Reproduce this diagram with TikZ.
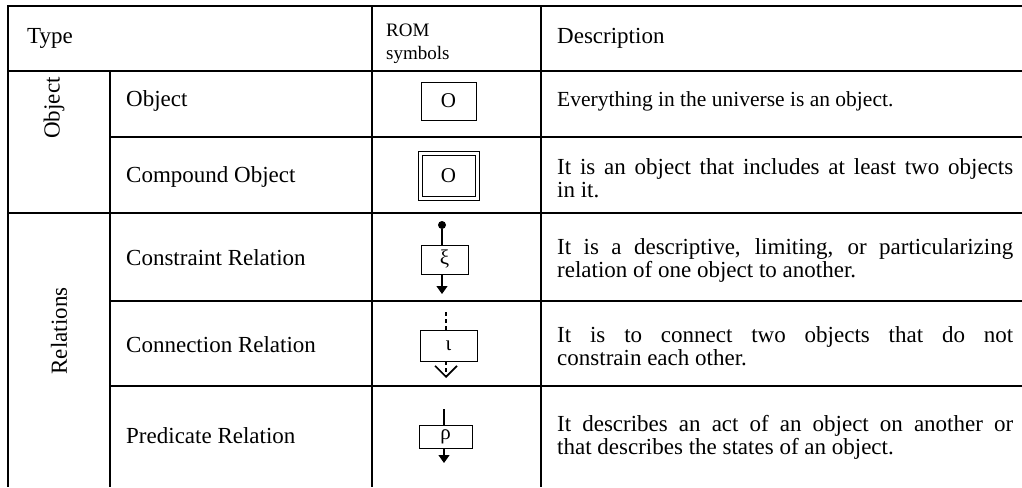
\documentclass[tikz,border=0pt]{standalone}
\usepackage{fontspec}
\setmainfont{Liberation Serif}
\usetikzlibrary{arrows.meta,positioning,calc}

\tikzset{
	tableLine/.style={
		line width=2pt
	}
}

\tikzset{
	cellText/.style={
		font=\fontsize{23}{23}\selectfont,
		inner sep=0pt,
		anchor=west
	}
}

\tikzset{
	descText/.style={
		font=\fontsize{23}{23}\selectfont,
		inner sep=0pt,
		anchor=west,
		text width=456pt,
		align=justify
	}
}

\tikzset{
	groupText/.style={
		font=\fontsize{23}{23}\selectfont,
		inner sep=0pt,
		rotate=90
	}
}

\tikzset{
	symbolBox/.style={
		draw,
		line width=0.8pt,
		inner sep=0pt,
		font=\fontsize{21}{21}\selectfont
	}
}

\tikzset{
	symbolLine/.style={
		line width=1.2pt
	}
}

\begin{document}
\begin{tikzpicture}[x=1pt,y=-1pt]

\useasboundingbox (0,0) rectangle (1022,487);

\draw[tableLine] (1022,6) -- (8,6) -- (8,487);
\draw[tableLine] (8,71) -- (1022,71);
\draw[tableLine] (110,137) -- (1022,137);
\draw[tableLine] (8,213) -- (1022,213);
\draw[tableLine] (110,301) -- (1022,301);
\draw[tableLine] (110,386) -- (1022,386);
\draw[tableLine] (110,71) -- (110,487);
\draw[tableLine] (372,6) -- (372,487);
\draw[tableLine] (541,6) -- (541,487);

\node[cellText](TypeHead) at (27,38) {Type};
\node[cellText, align=left, font=\fontsize{19}{23}\selectfont](RomHead) at (386,44) {ROM\\symbols};
\node[cellText](DescHead) at (557,38) {Description};

\node[groupText](ObjGroup) at (54,108) {Object};
\node[groupText](RelGroup) at (59,331) {Relations};

\node[cellText](ObjName) at (126,101) {Object};
\node[cellText](CmpName) at (126,177) {Compound Object};
\node[cellText](ConName) at (126,258) {Constraint Relation};
\node[cellText](CnnName) at (126,345) {Connection Relation};
\node[cellText](PrdName) at (126,436) {Predicate Relation};

\node[descText, font=\fontsize{21.5}{23}\selectfont](ObjDesc) at (557,101) {Everything in the universe is an object.};
\node[descText](CmpDesc) at (557,178) {It is an object that includes at least two objects\linebreak in it.};
\node[descText](ConDesc) at (557,260) {It is a descriptive, limiting, or particularizing\linebreak relation of one object to another.};
\node[descText](CnnDesc) at (557,346) {It is to connect two objects that do not\linebreak constrain each other.};
\node[descText](PrdDesc) at (557,437) {It describes an act of an object on another or\linebreak that describes the states of an object.};

\node[symbolBox, minimum width=55pt, minimum height=38pt](ObjBox) at (448.5,101) {O};
\node[symbolBox, minimum width=61pt, minimum height=49pt](CmpBox) at (448.5,175.5) {};
\node[symbolBox, minimum width=53pt, minimum height=41pt](CmpInner) at (CmpBox.center) {O};

\node[symbolBox, minimum width=47pt, minimum height=29pt](ConBox) at (444.5,259.5) {ξ};
\node[circle, fill, inner sep=0pt, minimum size=8pt](ConDot) at (442,225) {};
\coordinate (ConEnd) at (442,294);
\draw[symbolLine] (ConDot) -- (ConDot |- ConBox.north);
\draw[symbolLine, -{Triangle[width=11pt,length=8pt]}] (ConDot |- ConBox.south) -- (ConEnd);

\node[symbolBox, minimum width=57pt, minimum height=31pt](CnnBox) at (448.5,345.5) {ι};
\coordinate (CnnTop) at (446,312);
\coordinate (CnnEnd) at (446,378);
\draw[symbolLine, dash pattern=on 4pt off 3pt] (CnnTop) -- (CnnTop |- CnnBox.north);
\draw[symbolLine, dash pattern=on 4pt off 3pt, -{Straight Barb[width=22pt,length=11pt,line width=1.6pt]}] (CnnTop |- CnnBox.south) -- (CnnEnd);

\node[symbolBox, minimum width=53pt, minimum height=23pt](PrdBox) at (445.5,436.5) {ρ};
\coordinate (PrdTop) at (444,409);
\coordinate (PrdEnd) at (444,463);
\draw[symbolLine] (PrdTop) -- (PrdTop |- PrdBox.north);
\draw[symbolLine, -{Triangle[width=11pt,length=8pt]}] (PrdTop |- PrdBox.south) -- (PrdEnd);

\end{tikzpicture}
\end{document}
